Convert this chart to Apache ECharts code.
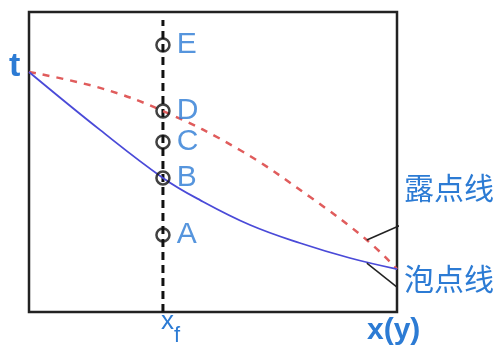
<!DOCTYPE html>
<html>
<head>
<meta charset="utf-8">
<script src="https://cdn.jsdelivr.net/npm/echarts@6/dist/echarts.min.js"></script>
<style>
    html,body{margin:0;padding:0;background:#fff;}
    #main{width:504px;height:349px;}
</style>
</head>
<body>
<div id="main"></div>
<script>
// 露点线 (红色虚线)
var dewX = [0, 0.193, 0.364, 0.573, 0.764, 0.918, 1.0];
var dewY = [0.8, 0.747, 0.67, 0.54, 0.383, 0.24, 0.143];
// 泡点线 (蓝色实线)
var bubbleX = [0, 0.193, 0.364, 0.465, 0.601, 0.736, 0.872, 1.0];
var bubbleY = [0.8, 0.607, 0.447, 0.373, 0.29, 0.23, 0.18, 0.143];
// xf 处的各点
var xf = 0.364;
var pointNames = ["E", "D", "C", "B", "A"];
var pointY = [0.89, 0.67, 0.567, 0.447, 0.257];
// 指示线
var leaderDewX = [0.918, 1.103];
var leaderDewY = [0.24, 0.34];
var leaderBubbleX = [0.918, 1.0];
var leaderBubbleY = [0.163, 0.083];

var blueText = "#2c7bd4";

function toPairs(xs, ys) {
    var arr = [];
    for (var i = 0; i < xs.length; i++) {
        arr.push([xs[i], ys[i]]);
    }
    return arr;
}

var pointData = [];
for (var i = 0; i < pointNames.length; i++) {
    pointData.push({name: pointNames[i], value: [xf, pointY[i]]});
}

var myChart = echarts.init(document.getElementById("main"));

var option = {
    animation: false,
    grid: {left: 29, right: 107, top: 12, bottom: 37, show: true, borderColor: "#222", borderWidth: 2.5, backgroundColor: "#fff"},
    xAxis: {type: "value", min: 0, max: 1, show: false},
    yAxis: {type: "value", min: 0, max: 1, show: false},
    series: [
        {
            // 竖直虚线 xf
            type: "line",
            data: [[xf, 0], [xf, 0.973]],
            symbol: "none",
            lineStyle: {color: "#111", width: 3, type: [8, 5]},
            z: 2
        },
        {
            type: "line",
            data: toPairs(dewX, dewY),
            smooth: 0.4,
            symbol: "none",
            lineStyle: {color: "#e05c5c", width: 2.5, type: [7, 7]},
            z: 3
        },
        {
            type: "line",
            data: toPairs(bubbleX, bubbleY),
            smooth: 0.4,
            symbol: "none",
            lineStyle: {color: "#4a4ad8", width: 1.8},
            z: 3
        },
        {
            type: "line",
            data: toPairs(leaderDewX, leaderDewY),
            symbol: "none",
            clip: false,
            lineStyle: {color: "#222", width: 1.5},
            z: 4
        },
        {
            type: "line",
            data: toPairs(leaderBubbleX, leaderBubbleY),
            symbol: "none",
            clip: false,
            lineStyle: {color: "#222", width: 1.5},
            z: 4
        },
        {
            type: "scatter",
            data: pointData,
            symbol: "circle",
            symbolSize: 13,
            itemStyle: {color: "rgba(255,255,255,0)", borderColor: "#111", borderWidth: 2.5},
            label: {
                show: true,
                position: "right",
                distance: 6,
                formatter: "{b}",
                color: blueText,
                fontSize: 30,
                fontFamily: "Liberation Sans"
            },
            z: 5
        }
    ],
    graphic: [
        {type: "text", left: 9, top: 50, style: {text: "t", fill: blueText, fontSize: 34, fontWeight: "bold", fontFamily: "Liberation Sans"}},
        {type: "text", left: 161, top: 309, style: {
            text: "{a|x}{b|f}", fill: blueText,
            rich: {
                a: {fontSize: 26, fontFamily: "Liberation Sans", fill: blueText, verticalAlign: "top"},
                b: {fontSize: 22, fontFamily: "Liberation Sans", fill: blueText, padding: [16, 0, 0, 0]}
            }
        }},
        {type: "text", left: 367, top: 316, style: {text: "x(y)", fill: blueText, fontSize: 30, fontWeight: "bold", fontFamily: "Liberation Sans"}},
        {type: "text", left: 404, top: 173, style: {text: "露点线", fill: blueText, fontSize: 30, fontFamily: "Noto Sans CJK SC"}},
        {type: "text", left: 404, top: 264, style: {text: "泡点线", fill: blueText, fontSize: 30, fontFamily: "Noto Sans CJK SC"}}
    ]
};

myChart.setOption(option);
</script>
</body>
</html>
